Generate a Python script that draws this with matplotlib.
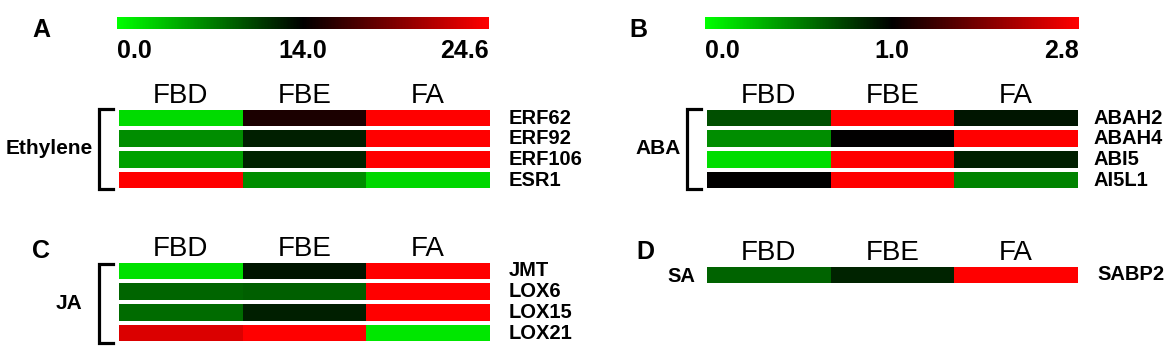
import numpy as np
import matplotlib
matplotlib.use('Agg')
import matplotlib.pyplot as plt
import matplotlib.transforms as mtransforms
from matplotlib.colors import LinearSegmentedColormap, TwoSlopeNorm
from matplotlib.cm import ScalarMappable
from matplotlib.lines import Line2D

plt.rcParams['font.family'] = ['Liberation Sans', 'DejaVu Sans']

stages = ['FBD', 'FBE', 'FA']

# panel A - ethylene
eth_genes = ['ERF62', 'ERF92', 'ERF106', 'ESR1']
eth_vals = [[2.0, 15.1, 24.6],
            [6.3, 12.3, 24.6],
            [5.2, 12.1, 24.6],
            [24.6, 6.3, 2.2]]
# panel B - ABA
aba_genes = ['ABAH2', 'ABAH4', 'ABI5', 'AI5L1']
aba_vals = [[0.69, 2.8, 0.92],
            [0.45, 1.0, 2.8],
            [0.14, 2.8, 0.88],
            [1.0, 2.8, 0.49]]
# panel C - JA
ja_genes = ['JMT', 'LOX6', 'LOX15', 'LOX21']
ja_vals = [[1.7, 12.9, 24.6],
           [8.5, 8.8, 24.6],
           [8.2, 12.3, 24.6],
           [23.1, 24.6, 1.4]]
# panel D - SA
sa_genes = ['SABP2']
sa_vals = [[0.61, 0.86, 2.8]]

scaleA = [0.0, 14.0, 24.6]
scaleB = [0.0, 1.0, 2.8]

cmap = LinearSegmentedColormap.from_list('gbr', ['#00ff00', '#000000', '#ff0000'])
normA = TwoSlopeNorm(vmin=scaleA[0], vcenter=scaleA[1], vmax=scaleA[2])
normB = TwoSlopeNorm(vmin=scaleB[0], vcenter=scaleB[1], vmax=scaleB[2])

W, H = 1176, 353
fig = plt.figure(figsize=(W / 100, H / 100), dpi=100)
px = mtransforms.Affine2D().scale(1 / W, -1 / H).translate(0, 1) + fig.transFigure


def px_axes(x0, y0, x1, y1):
    return fig.add_axes([x0 / W, 1 - y1 / H, (x1 - x0) / W, (y1 - y0) / H])


def heat(x0, x1, top, vals, genes, norm, gap):
    n = len(vals)
    pitch = 20.7
    ax = px_axes(x0, top - 2.35, x1, top - 2.35 + n * pitch)
    for i, row in enumerate(vals):
        ax.pcolormesh([-0.5, 0.5, 1.5, 2.5], [i - 0.4, i + 0.4], [row],
                      cmap=cmap, norm=norm)
    ax.set_xlim(-0.5, 2.5)
    ax.set_ylim(n - 0.5, -0.5)
    ax.axis('off')
    tr = mtransforms.blended_transform_factory(ax.transData, px)
    for j, s in enumerate(stages):
        ax.text(j, top - 7, s, transform=tr, ha='center', va='baseline', fontsize=20)
    tr2 = mtransforms.blended_transform_factory(ax.transAxes, ax.transData)
    for i, g in enumerate(genes):
        ax.text(1 + gap / (x1 - x0), i, g, transform=tr2, ha='left', va='center',
                fontsize=14.5, fontweight='bold')
    return ax


def bracket(x, top, bottom, label, label_x):
    fig.add_artist(Line2D([x + 14, x, x, x + 14], [top, top, bottom, bottom],
                          transform=px, color='black', lw=2.3,
                          solid_joinstyle='miter'))
    fig.text(label_x, (top + bottom) / 2, label, transform=px, ha='right',
             va='center', fontsize=15, fontweight='bold')


def cbar(x0, x1, norm, ticks):
    cax = px_axes(x0, 17, x1, 29)
    cb = fig.colorbar(ScalarMappable(norm=norm, cmap=cmap), cax=cax,
                      orientation='horizontal', ticks=ticks)
    cb.outline.set_visible(False)
    cax.tick_params(length=0, pad=7)
    cb.set_ticklabels(['%.1f' % t for t in ticks], fontsize=18, fontweight='bold')
    labs = cax.get_xticklabels()
    labs[0].set_ha('left')
    labs[-1].set_ha('right')


def letter(x, y, s):
    fig.text(x, y, s, transform=px, ha='left', va='baseline', fontsize=18,
             fontweight='bold')


# A
letter(32, 37, 'A')
cbar(117, 489, normA, scaleA)
heat(119, 490, 110, eth_vals, eth_genes, normA, 19)
bracket(99, 109, 189, 'Ethylene', 93)

# B
letter(629, 37, 'B')
cbar(705, 1079, normB, scaleB)
heat(707, 1078, 110, aba_vals, aba_genes, normB, 15)
bracket(687, 109, 189, 'ABA', 681)

# C
letter(32, 258, 'C')
heat(119, 490, 263, ja_vals, ja_genes, normA, 19)
bracket(99, 264, 343, 'JA', 82)

# D
letter(636, 259, 'D')
heat(707, 1078, 267, sa_vals, sa_genes, normB, 19)
fig.text(695, 276, 'SA', transform=px, ha='right', va='center', fontsize=14.5,
         fontweight='bold')

fig.savefig('out.png', dpi=100)
